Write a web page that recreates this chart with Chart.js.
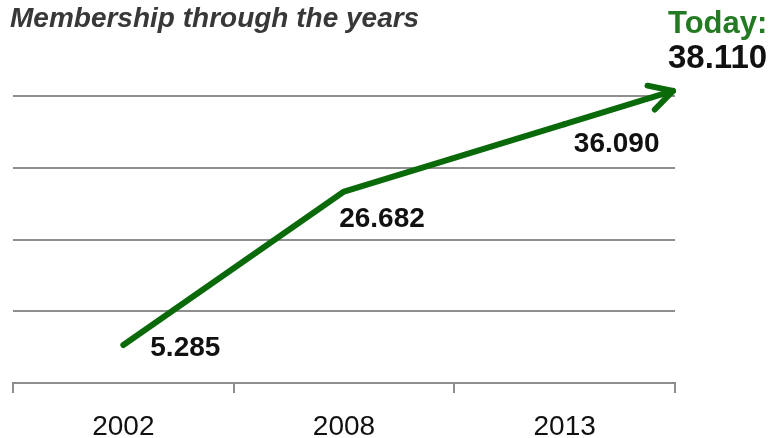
<!DOCTYPE html>
<html>
<head>
<meta charset="utf-8">
<script src="https://cdn.jsdelivr.net/npm/chart.js@4"></script>
<style>
  html, body { margin: 0; padding: 0; background: #fff; }
  #wrap { width: 775px; height: 438px; }
</style>
</head>
<body>
<div id="wrap"><canvas id="chart"></canvas></div>
<script>
// membership counts per year
const years = ['2002', '2008', '2013'];
const members = [5285, 26682, 36090];
const todayCount = 38110;

const GREEN = '#0a6a0a';
const GRID = '#8e8e8e';
const FONT = '"Liberation Sans", Arial, sans-serif';

// where each value label sits relative to its point
const labelOffsets = [[62, 3], [38, 28], [52, 20]];

const fmt = v => String(v).replace(/\B(?=(\d{3})+(?!\d))/g, '.');

const decorations = {
  id: 'decorations',
  afterDatasetsDraw(chart) {
    const ctx = chart.ctx;
    const pts = chart.getDatasetMeta(0).data;
    const area = chart.chartArea;

    // arrow: carry the last segment on to the right edge
    const a = pts[pts.length - 2], b = pts[pts.length - 1];
    const slope = (b.y - a.y) / (b.x - a.x);
    const tipX = area.right - 2;
    const tipY = b.y + slope * (tipX - b.x);
    const ang = Math.atan2(tipY - b.y, tipX - b.x);
    ctx.save();
    ctx.strokeStyle = GREEN;
    ctx.lineWidth = 6;
    ctx.lineCap = 'round';
    ctx.lineJoin = 'round';
    ctx.beginPath();
    ctx.moveTo(b.x, b.y);
    ctx.lineTo(tipX, tipY);
    ctx.stroke();
    const len = 26, spread = 0.5;
    ctx.beginPath();
    ctx.moveTo(tipX - len * Math.cos(ang - spread), tipY - len * Math.sin(ang - spread));
    ctx.lineTo(tipX, tipY);
    ctx.lineTo(tipX - len * Math.cos(ang + spread), tipY - len * Math.sin(ang + spread));
    ctx.stroke();

    // value labels
    ctx.fillStyle = '#111';
    ctx.font = 'bold 28px ' + FONT;
    ctx.textAlign = 'center';
    ctx.textBaseline = 'middle';
    pts.forEach((p, i) => {
      const [dx, dy] = labelOffsets[i];
      ctx.fillText(fmt(members[i]), p.x + dx, p.y + dy);
    });

    // heading and current count
    ctx.textAlign = 'left';
    ctx.textBaseline = 'alphabetic';
    ctx.fillStyle = '#383838';
    ctx.font = 'italic bold 28px ' + FONT;
    ctx.fillText('Membership through the years', 10, 27);
    ctx.fillStyle = '#237a23';
    ctx.font = 'bold 31px ' + FONT;
    ctx.fillText('Today:', 668, 33);
    ctx.fillStyle = '#111';
    ctx.font = 'bold 33px ' + FONT;
    ctx.fillText(fmt(todayCount), 668, 68);
    ctx.restore();
  }
};

new Chart(document.getElementById('chart'), {
  type: 'line',
  data: {
    labels: years,
    datasets: [{
      data: members,
      borderColor: GREEN,
      borderWidth: 6,
      borderCapStyle: 'round',
      borderJoinStyle: 'round',
      pointRadius: 0,
      tension: 0,
      clip: false
    }]
  },
  options: {
    responsive: true,
    maintainAspectRatio: false,
    animation: false,
    layout: { padding: { left: 13, right: 100, top: 96, bottom: 0 } },
    plugins: { legend: { display: false }, tooltip: { enabled: false } },
    scales: {
      x: {
        offset: true,
        grid: { offset: true, drawOnChartArea: false, drawTicks: true, tickLength: 10, color: GRID, lineWidth: 2 },
        border: { display: true, color: GRID, width: 2 },
        ticks: { color: '#111', font: { family: FONT, size: 28 }, padding: 17, maxRotation: 0 },
        afterFit: s => { s.height = 55; }
      },
      y: {
        min: 0,
        max: 40000,
        ticks: { stepSize: 10000, display: false },
        grid: { color: GRID, lineWidth: 2, drawTicks: false },
        border: { display: false },
        afterFit: s => { s.width = 0; }
      }
    }
  },
  plugins: [decorations]
});
</script>
</body>
</html>
